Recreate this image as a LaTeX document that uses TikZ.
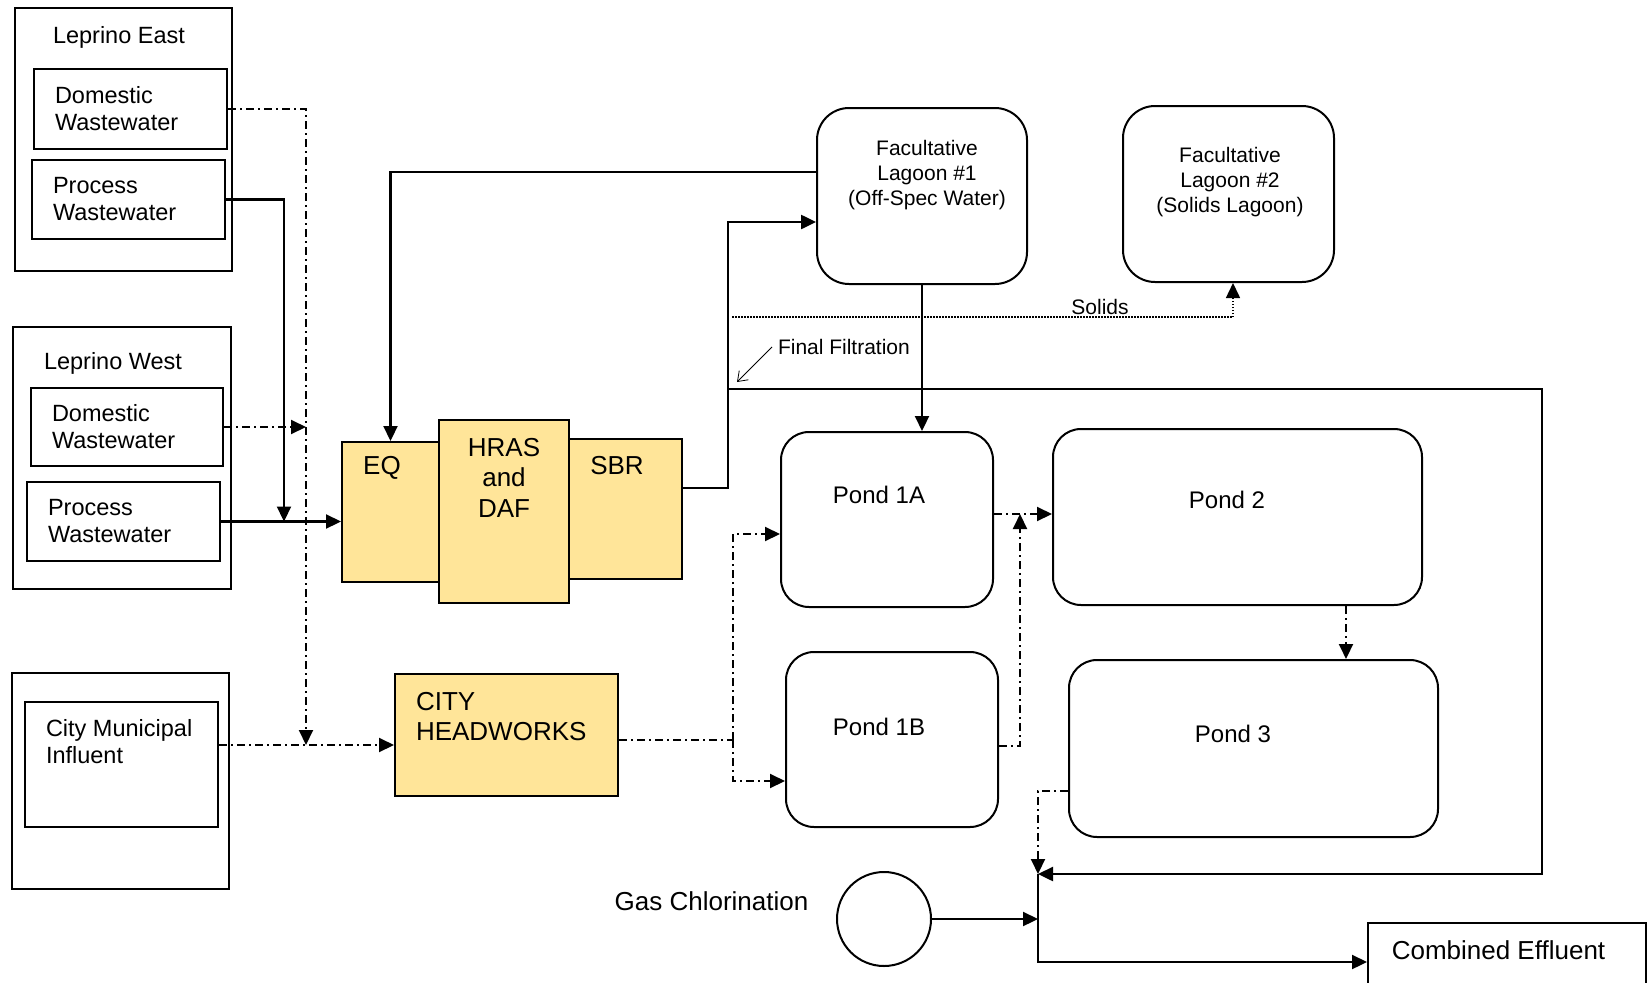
\documentclass[tikz,border=0pt]{standalone}
\usepackage{fontspec}
\setmainfont{Liberation Sans}
\usetikzlibrary{arrows.meta}
\definecolor{lgold}{RGB}{255, 229, 153}

\begin{document}
\begin{tikzpicture}[x=1pt, y=-1pt, line width=2pt,
	src/.style = {draw, rectangle, align=left, inner xsep=21pt, inner ysep=0pt, font=\fontsize{23.5}{27}\selectfont},
	grp/.style = {draw, rectangle, inner sep=0pt},
	plant/.style = {draw, rectangle, fill = lgold, inner sep=0pt},
	pond/.style = {draw, rectangle, rounded corners=28pt, inner sep=0pt},
	txt/.style = {inner sep=0pt, font=\fontsize{23.5}{27}\selectfont},
	big/.style = {inner sep=0pt, align=center, font=\fontsize{26}{30.5}\selectfont},
	small/.style = {inner sep=0pt, align=center, font=\fontsize{21}{25}\selectfont},
	flow/.style = {line width=2.2pt, -{Triangle[length=15pt, width=14pt]}},
	dd/.style = {dash pattern=on 8pt off 4pt on 2pt off 4pt}]
			\useasboundingbox (0,0) rectangle (1648,982);
			% sources
			\node (east) at (123.5,139.5) [grp, minimum width=217pt, minimum height=263pt] {};
			\node (eastlbl) at (52,37) [txt, anchor=west] {Leprino East};
			\node (eastdom) at (130.5,109) [src, text width=151pt, minimum height=80pt] {Domestic\\Wastewater};
			\node (eastproc) at (128.5,199.5) [src, text width=151pt, minimum height=79pt] {Process\\Wastewater};
			\node (west) at (122,458) [grp, minimum width=218pt, minimum height=262pt] {};
			\node (westlbl) at (43,363) [txt, anchor=west] {Leprino West};
			\node (westdom) at (127,427) [src, text width=150pt, minimum height=78pt] {Domestic\\Wastewater};
			\node (westproc) at (123.5,521.5) [src, text width=151pt, minimum height=79pt] {Process\\Wastewater};
			\node (city) at (120.5,781) [grp, minimum width=217pt, minimum height=216pt] {};
			\node (cityinf) at (121.5,764.5) [grp, minimum width=193pt, minimum height=125pt,
				label={[txt, align=left, anchor=west, xshift=21pt, yshift=23pt]west:City Municipal\\Influent}] {};
			% treatment
			\node (eq) at (390.5,512) [plant, minimum width=97pt, minimum height=140pt,
				label={[big, xshift=-8.5pt, yshift=44pt]center:EQ}] {};
			\node (hras) at (504,511.5) [plant, minimum width=130pt, minimum height=183pt,
				label={[big, yshift=34pt]center:HRAS\\and\\DAF}] {};
			\node (sbr) at (625.5,509) [plant, minimum width=113pt, minimum height=140pt,
				label={[big, xshift=-8.5pt, yshift=43pt]center:SBR}] {};
			\node (hdw) at (506.5,735) [plant, minimum width=223pt, minimum height=122pt,
				label={[big, align=left, anchor=west, xshift=21pt, yshift=18.5pt]west:CITY\\HEADWORKS}] {};
			% lagoons and ponds
			\node (lag1) at (922,196) [pond, rounded corners=32pt, minimum width=210pt, minimum height=176pt,
				label={[small, xshift=5pt, yshift=21pt]center:Facultative\\Lagoon \#1\\(Off-Spec Water)}] {};
			\node (lag2) at (1228.5,194) [pond, rounded corners=32pt, minimum width=211pt, minimum height=176pt,
				label={[small, xshift=1.5pt, yshift=12pt]center:Facultative\\Lagoon \#2\\(Solids Lagoon)}] {};
			\node (p1a) at (887,519.5) [pond, minimum width=212pt, minimum height=175pt,
				label={[txt, font=\fontsize{24}{28}\selectfont, xshift=-8pt, yshift=24.5pt]center:Pond 1A}] {};
			\node (p1b) at (892,739.5) [pond, minimum width=212pt, minimum height=175pt,
				label={[txt, font=\fontsize{24}{28}\selectfont, xshift=-13pt, yshift=12.5pt]center:Pond 1B}] {};
			\node (p2) at (1237.5,517) [pond, minimum width=369pt, minimum height=176pt,
				label={[txt, font=\fontsize{24}{28}\selectfont, xshift=-10.5pt, yshift=17pt]center:Pond 2}] {};
			\node (p3) at (1253.5,748.5) [pond, minimum width=369pt, minimum height=177pt,
				label={[txt, font=\fontsize{24}{28}\selectfont, xshift=-20.5pt, yshift=14.5pt]center:Pond 3}] {};
			\node (chl) at (884,919) [draw, circle, minimum size=94pt, inner sep=0pt] {};
			\node (gaslbl) at (711.5,901) [big] {Gas Chlorination};
			\node (eff) at (1507,962) [grp, minimum width=278pt, minimum height=78pt,
				label={[big, xshift=-8.5pt, yshift=12pt]center:Combined Effluent}] {};
			\node (sollbl) at (1100,307) [small] {Solids};
			\node (fflbl) at (777,347) [small, anchor=west] {Final Filtration};
			% junctions
			\coordinate (j1) at (284,521.5);
			\coordinate (j2) at (306,745);
			\coordinate (j3) at (733,740);
			\coordinate (j4) at (1020,514);
			\coordinate (j5) at (1038,874);
			\coordinate (j6) at (728,389);
			\coordinate (j7) at (1542,874);
			\coordinate (sol) at (732,317);
			\coordinate (ffend) at (737,382);
			% flows
			\draw [flow] (eastproc.east) -| (j1);
			\draw [flow] (westproc.east) -- (westproc.east -| eq.west);
			\draw [dd, flow, line width=2pt] (eastdom.east) -| (j2);
			\draw [dd, flow, line width=2pt] (westdom.east) -- (westdom.east -| j2);
			\draw [dd, flow, line width=2pt] (cityinf.east |- j2) -- (hdw.west |- j2);
			\draw [dd] ([yshift=-5pt]hdw.east) -- (j3);
			\draw [dd, flow, line width=2pt] (j3) |- ([yshift=-14.5pt]p1a.west);
			\draw [dd, flow, line width=2pt] (j3) |- ([yshift=-41.5pt]p1b.west);
			\draw [dd, flow, line width=2pt] ([yshift=5.5pt]p1a.east) -- ([yshift=5.5pt]p1a.east -| p2.west);
			\draw [dd, flow, line width=2pt] ([yshift=-6.5pt]p1b.east) -| (j4);
			\draw [dd, flow, line width=2pt] ([xshift=108.5pt]p2.south) -- ([xshift=108.5pt]p2.south |- p3.north);
			\draw [dd, flow, line width=2pt] ([yshift=-42.5pt]p3.west) -| (j5);
			\draw [flow] ([yshift=24pt]lag1.west) -| (eq.north);
			\draw [flow, line width=2.5pt] ([yshift=21pt]sbr.east) -| (j6) |- ([yshift=-26pt]lag1.west);
			\draw [flow, line width=2.5pt] (j6) -| (j7) -- (j5);
			\draw [flow] (lag1.south) -- (lag1.south |- p1a.north);
			\draw [flow, line width=1.5pt, dash pattern=on 1.5pt off 1.5pt] (sol) -| ([xshift=4.5pt]lag2.south);
			\draw [line width=0.8pt, -{Straight Barb[length=9pt, width=13pt]}] ([xshift=-5pt]fflbl.west) -- (ffend);
			\draw [flow] (chl) -- (chl -| j5);
			\draw [flow] (j5) |- (eff.west);
\end{tikzpicture}
\end{document}
